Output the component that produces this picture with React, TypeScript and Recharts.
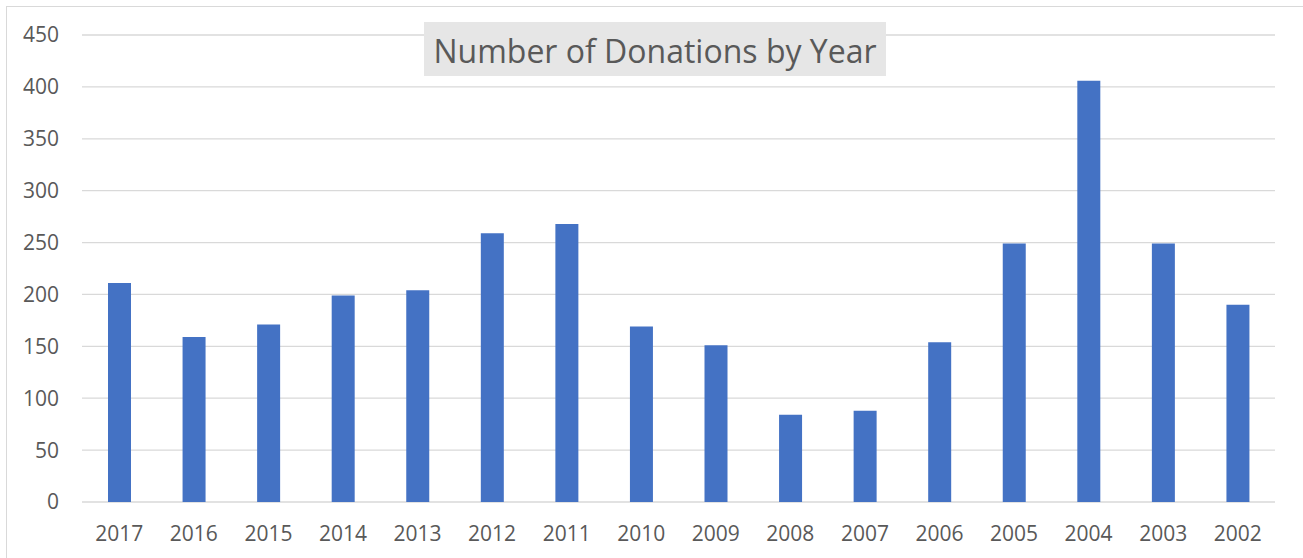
import { BarChart, Bar, XAxis, YAxis, CartesianGrid } from "recharts";

const years = [
  "2017", "2016", "2015", "2014", "2013", "2012", "2011", "2010",
  "2009", "2008", "2007", "2006", "2005", "2004", "2003", "2002",
];
const donations = [211, 159, 171, 199, 204, 259, 268, 169, 151, 84, 88, 154, 249, 406, 249, 190];
const yTicks = [0, 50, 100, 150, 200, 250, 300, 350, 400, 450];

const data = years.map((year, i) => ({ year, count: donations[i] }));

const FONT = "'Open Sans', sans-serif";
const TEXT = "#595959";

export default function App() {
  return (
    <div
      style={{
        position: "absolute",
        left: 0,
        top: 0,
        width: 1303,
        height: 558,
        overflow: "hidden",
        background: "#fff",
        fontFamily: FONT,
      }}
    >
      <div
        style={{
          position: "absolute",
          left: 6,
          top: 6,
          width: 1320,
          height: 580,
          border: "1px solid #d9d9d9",
        }}
      />
      <BarChart
        width={1303}
        height={558}
        data={data}
        margin={{ top: 35, right: 28, bottom: 0, left: 22 }}
        style={{ position: "absolute", left: 0, top: 0 }}
      >
        <CartesianGrid vertical={false} stroke="#d9d9d9" strokeWidth={1.3} />
        <XAxis
          dataKey="year"
          axisLine={false}
          tickLine={false}
          tickSize={0}
          tickMargin={24}
          height={56}
          interval={0}
          tick={{ fill: TEXT, fontSize: 21, fontFamily: FONT }}
        />
        <YAxis
          domain={[0, 450]}
          ticks={yTicks}
          axisLine={false}
          tickLine={false}
          tickSize={0}
          tickMargin={23}
          width={60}
          interval={0}
          tick={{ fill: TEXT, fontSize: 21, fontFamily: FONT }}
        />
        <Bar dataKey="count" fill="#4472C4" barSize={23} isAnimationActive={false} />
      </BarChart>
      <div
        style={{
          position: "absolute",
          left: 424,
          top: 22,
          width: 462,
          height: 54,
          background: "#e6e6e6",
          color: TEXT,
          fontSize: 32,
          lineHeight: "57px",
          textAlign: "center",
          whiteSpace: "nowrap",
          overflow: "hidden",
        }}
      >
        Number of Donations by Year
      </div>
    </div>
  );
}
